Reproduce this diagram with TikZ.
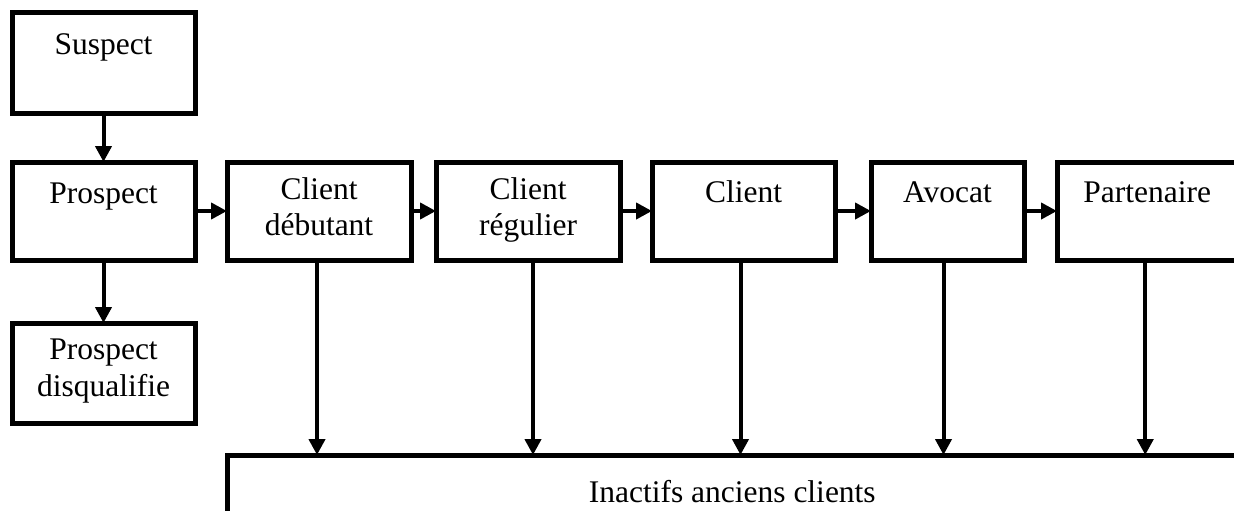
\documentclass[tikz,border=0pt]{standalone}
\usepackage{fontspec}
\setmainfont{Liberation Serif}
\usetikzlibrary{arrows.meta}
\begin{document}
\begin{tikzpicture}[x=1pt,y=-1pt,
  stage/.style={draw, line width=5pt, inner sep=0pt, outer sep=0pt, anchor=north west},
  caption/.style={anchor=north, inner sep=0pt, align=center,
    font=\fontsize{31.5}{36.5}\selectfont, execute at begin node=\strut},
  flow/.style={line width=4pt, -{Triangle[length=16pt,width=16pt]}}]
\useasboundingbox (0,0) rectangle (1234,511);
\clip (0,0) rectangle (1234,511);

% stage boxes (top-left corner, width, height)
\node[stage, minimum width=183, minimum height=100] (susp) at (12,13) {};
\node[stage, minimum width=183, minimum height=98]  (prosp) at (12,162) {};
\node[stage, minimum width=183, minimum height=100] (disq) at (12,323) {};
\node[stage, minimum width=184, minimum height=98]  (deb) at (227,162) {};
\node[stage, minimum width=184, minimum height=98]  (reg) at (436,162) {};
\node[stage, minimum width=183, minimum height=98]  (cli) at (652,162) {};
\node[stage, minimum width=153, minimum height=98]  (avo) at (871,162) {};
\node[stage, minimum width=180.5, minimum height=98] (part) at (1057,162) {};
\node[stage, minimum width=1010.5, minimum height=110] (inact) at (227,455) {};

% captions, set near the top of each box
\node[caption] (tsusp) at ([yshift=-16]susp.north) {Suspect};
\node[caption] (tprosp) at ([yshift=-16]prosp.north) {Prospect};
\node[caption] (tdisq) at ([yshift=-16]disq.north) {Prospect\\disqualifie};
\node[caption] (tdeb) at ([yshift=-15]deb.north) {Client\\débutant};
\node[caption] (treg) at ([yshift=-15]reg.north) {Client\\régulier};
\node[caption] (tcli) at ([yshift=-15]cli.north) {Client};
\node[caption] (tavo) at ([yshift=-15]avo.north) {Avocat};
\node[caption] (tpart) at ([yshift=-15]part.north) {Partenaire};
\node[caption] (tinact) at ([yshift=-22]inact.north) {Inactifs anciens clients};

% connectors
\draw[flow] (susp.south) -- (prosp.north);
\draw[flow] (prosp.south) -- (disq.north);
\draw[flow] (prosp.east) -- (deb.west);
\draw[flow] (deb.east) -- (reg.west);
\draw[flow] (reg.east) -- (cli.west);
\draw[flow] (cli.east) -- (avo.west);
\draw[flow] (avo.east) -- (part.west);

\draw[flow] ([xshift=-2]deb.south) -- ([xshift=-2]deb.south |- inact.north);
\draw[flow] ([xshift=5]reg.south) -- ([xshift=5]reg.south |- inact.north);
\draw[flow] ([xshift=-3]cli.south) -- ([xshift=-3]cli.south |- inact.north);
\draw[flow] ([xshift=-4]avo.south) -- ([xshift=-4]avo.south |- inact.north);
\draw[flow] ([xshift=-2]part.south) -- ([xshift=-2]part.south |- inact.north);
\end{tikzpicture}
\end{document}
